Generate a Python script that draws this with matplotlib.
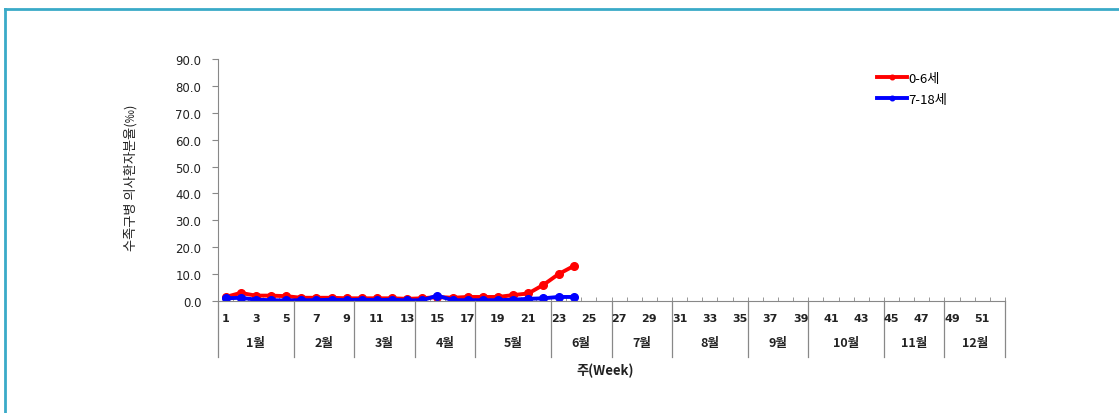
import matplotlib
matplotlib.use('Agg')
import matplotlib.pyplot as plt
import matplotlib.transforms as mtransforms
from matplotlib.lines import Line2D

plt.rcParams['font.family'] = ['Noto Sans CJK KR', 'DejaVu Sans']

# 데이터
weeks = list(range(1, 25))
age_0_6 = [1.5, 3.0, 2.0, 2.0, 1.8, 1.2, 1.2, 1.2, 1.0, 1.0, 1.0, 1.0,
           0.8, 1.0, 1.5, 1.2, 1.5, 1.5, 1.5, 2.2, 2.8, 6.0, 10.0, 13.0]
age_7_18 = [1.0, 1.2, 0.5, 0.3, 0.2, 0.3, 0.3, 0.5, 0.3, 0.5, 0.3, 0.5,
            0.2, 0.3, 2.0, 0.3, 0.3, 0.3, 0.3, 0.5, 0.8, 1.0, 1.5, 1.5]
months = ['1월', '2월', '3월', '4월', '5월', '6월', '7월', '8월', '9월', '10월', '11월', '12월']
month_bounds = [0.5, 5.5, 9.5, 13.5, 17.5, 22.5, 26.5, 30.5, 35.5, 39.5, 44.5, 48.5, 52.5]
week_labels = list(range(1, 52, 2))

W, H = 1119, 414
fig = plt.figure(figsize=(W / 100, H / 100), dpi=100)
ax = fig.add_axes([218 / W, 1 - 302 / H, (1005 - 218) / W, (302 - 60) / H])

ax.plot(weeks, age_0_6, color='#ff0000', lw=2.8, marker='o', ms=5.5, label='0-6세')
ax.plot(weeks, age_7_18, color='#0000ff', lw=2.8, marker='o', ms=5.5, label='7-18세')

ax.set_xlim(0.5, 52.5)
ax.set_ylim(0, 90)
ax.set_yticks(range(0, 91, 10))
ax.set_yticklabels(['%.1f' % v for v in range(0, 91, 10)], family='DejaVu Sans',
                   fontsize=8.5, color='#222222')
ax.tick_params(axis='y', length=4, width=0.8, color='#888888', pad=8)
ax.set_xticks([])
ax.xaxis.set_minor_locator(matplotlib.ticker.FixedLocator([k + 0.5 for k in range(0, 53)]))
ax.tick_params(axis='x', which='minor', direction='in', length=3, color='#888888')

for s in ['top', 'right']:
    ax.spines[s].set_visible(False)
ax.spines['left'].set_color('#888888')
ax.spines['bottom'].set_color('#888888')

trans = mtransforms.blended_transform_factory(ax.transData, fig.transFigure)
# 월 구분선
for b in month_bounds:
    ax.add_line(Line2D([b, b], [1 - 302 / H, 1 - 358 / H], transform=trans,
                       color='#888888', lw=0.9, clip_on=False))
# 주 라벨
for w in week_labels:
    fig.text(w, 1 - 319 / H, str(w), transform=trans, ha='center', va='center',
             fontsize=8, fontweight='bold', family='DejaVu Sans', color='#222222')
# 월 라벨
for i, m in enumerate(months):
    c = (month_bounds[i] + month_bounds[i + 1]) / 2
    fig.text(c, 1 - 344 / H, m, transform=trans, ha='center', va='center',
             fontsize=9, fontweight='bold', color='#222222')

fig.text(605 / W, 1 - 371 / H, '주(Week)', ha='center', va='center',
         fontsize=9.5, fontweight='bold', color='#222222')
fig.text(131 / W, 1 - 178 / H, '수족구병 의사환자분율(‰)', rotation=90,
         ha='center', va='center', fontsize=9.5, color='#222222')

ax.legend(loc='upper left', bbox_to_anchor=(870 / W, 1 - 66 / H),
          bbox_transform=fig.transFigure, frameon=False, fontsize=9.5,
          handlelength=2.3, handletextpad=0.1, labelspacing=0.6, borderpad=0,
          markerscale=0.6)

# 바깥 테두리
fig.add_artist(Line2D([5 / W, 5 / W], [0, 1 - 10 / H], transform=fig.transFigure,
                      color='#3aaac8', lw=2))
fig.add_artist(Line2D([5 / W, 1], [1 - 10 / H, 1 - 10 / H], transform=fig.transFigure,
                      color='#3aaac8', lw=2))

plt.savefig('out.png', dpi=100)
